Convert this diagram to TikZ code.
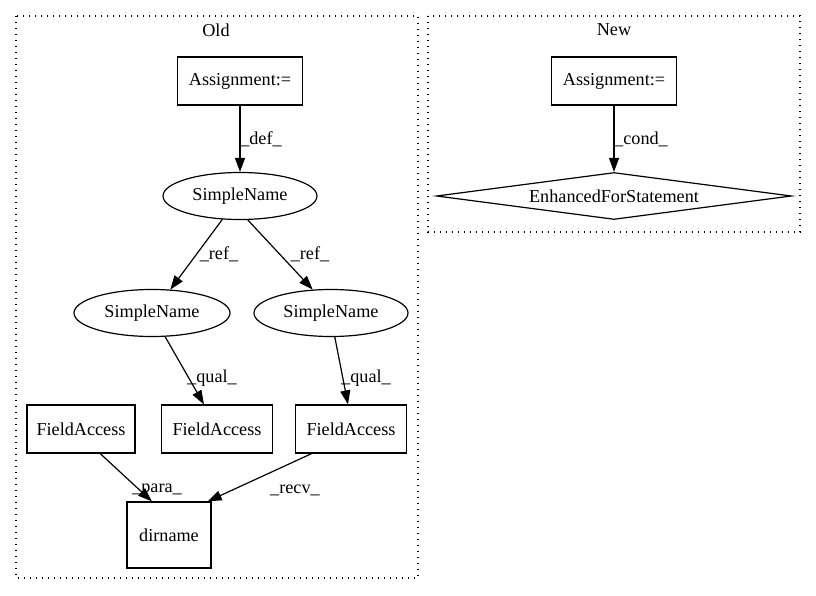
\documentclass[tikz,border=0pt]{standalone}
\usepackage{fontspec}
\setmainfont{Liberation Serif}
\usetikzlibrary{arrows.meta,shapes.geometric}
\begin{document}
\begin{tikzpicture}[x=1pt,y=-1pt,
  every node/.style={font=\fontsize{18.2}{22}\selectfont, inner sep=0pt},
  boxnode/.style={draw, line width=1.2pt, rectangle, minimum height=48, align=center},
  ellnode/.style={draw, line width=1.2pt, ellipse, minimum width=154, minimum height=47},
  dianode/.style={draw, line width=1.2pt, diamond, shape aspect=7.5, minimum width=355, minimum height=47},
  cluster/.style={line width=1.2pt, dash pattern=on 1.3pt off 4.7pt},
  conn/.style={line width=1.2pt, -{Triangle[length=14pt,width=10pt]}},
  lbl/.style={}
]
\useasboundingbox (0,0) rectangle (816,596);
% clusters
\draw[cluster] (16,16) rectangle (418,578);
\draw[cluster] (428,16) rectangle (800,232);
\node (toldt) at (216,30) {Old};
\node (tnewt) at (614,30) {New};
% Old nodes
\node[boxnode, minimum width=125] (a1) at (240,81) {Assignment:=};
\node[ellnode] (sn0) at (240,196) {SimpleName};
\node[ellnode, minimum width=156] (sn1) at (152,313) {SimpleName};
\node[ellnode] (sn2) at (331,313) {SimpleName};
\node[boxnode, minimum width=108] (fa1) at (81,429) {FieldAccess};
\node[boxnode, minimum width=111] (fa2) at (217,429) {FieldAccess};
\node[boxnode, minimum width=111] (fa3) at (351,429) {FieldAccess};
\node[boxnode, minimum width=84, minimum height=66] (dn) at (169,535) {dirname};
% New nodes
\node[boxnode, minimum width=125] (a2) at (614,81) {Assignment:=};
\node[dianode] (efs) at (614,196) {EnhancedForStatement};
% edges
\draw[conn] (a1.south) -- (sn0.north);
\draw[conn] (sn0.233) -- (sn1.52);
\draw[conn] (sn0.288) -- (sn2.128);
\draw[conn] (sn1.299) -- (fa2.118);
\draw[conn] (sn2.279) -- (fa3.97);
\draw[conn] (fa1.308) -- (dn.117);
\draw[conn] (fa3.212) -- (dn.41);
\draw[conn] (a2.south) -- (efs.north);
% labels
\node[lbl] (ldef) at (261,139) {\_def\_};
\node[lbl] (lref1) at (219,254) {\_ref\_};
\node[lbl] (lref2) at (310,254) {\_ref\_};
\node[lbl] (lqual1) at (212,378) {\_qual\_};
\node[lbl] (lqual2) at (366,378) {\_qual\_};
\node[lbl] (lpara) at (157,490) {\_para\_};
\node[lbl] (lrecv) at (295,490) {\_recv\_};
\node[lbl] (lcond) at (641,139) {\_cond\_};
\end{tikzpicture}
\end{document}
